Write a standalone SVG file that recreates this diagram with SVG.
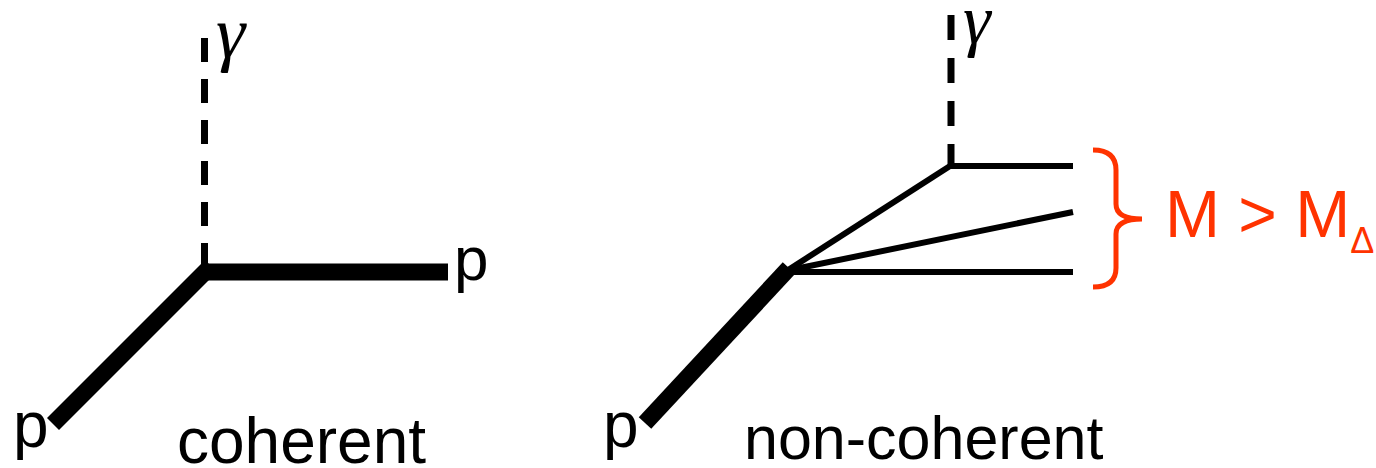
<svg xmlns="http://www.w3.org/2000/svg" width="1376" height="468" viewBox="0 0 1376 468">
  <style>
    .lbl { font-family: "Liberation Sans", Arial, sans-serif; fill: #000; }
    .greek { font-family: "Liberation Serif", "Times New Roman", serif; font-style: italic; fill: #000; }
    .photon { stroke: #000; stroke-width: 7; fill: none; }
    .proton { stroke: #000; stroke-width: 17; fill: none; stroke-linecap: butt; }
    .frag { stroke: #000; stroke-width: 6; fill: none; }
    .red { fill: #ff3300; font-family: "Liberation Sans", Arial, sans-serif; }
  </style>
  <rect width="1376" height="468" fill="#fff"/>

  <!-- coherent scattering: proton stays intact -->
  <g id="coherent">
    <line class="photon" x1="204.5" y1="38" x2="204.5" y2="268" stroke-dasharray="24 17"/>
    <line class="proton" x1="205" y1="272" x2="448" y2="272"/>
    <line class="proton" x1="211" y1="266" x2="53" y2="424"/>
    <text class="greek" x="216" y="57" font-size="74">γ</text>
    <text class="lbl" x="454" y="280" font-size="62">p</text>
    <text class="lbl" x="13" y="447" font-size="64">p</text>
    <text class="lbl" x="177" y="463" font-size="64">coherent</text>
  </g>

  <!-- non-coherent scattering: proton breaks up -->
  <g id="non-coherent">
    <line class="photon" x1="951" y1="15" x2="951" y2="166" stroke-dasharray="25 18"/>
    <line class="frag" x1="950" y1="166" x2="1073" y2="166"/>
    <line class="frag" x1="950" y1="166" x2="785" y2="272"/>
    <line class="frag" x1="785" y1="271" x2="1073" y2="212"/>
    <line class="frag" x1="785" y1="272" x2="1073" y2="272"/>
    <line class="proton" x1="789" y1="268" x2="645" y2="423"/>
    <text class="greek" x="963" y="43" font-size="70">γ</text>
    <text class="lbl" x="603" y="447" font-size="64">p</text>
    <text class="lbl" x="744" y="459" font-size="61">non-coherent</text>
  </g>

  <!-- invariant mass condition on the fragments -->
  <g id="mass-brace">
    <path d="M1093,150 Q1116,150 1116,170 L1116,204 Q1116,219 1142,219 Q1116,219 1116,234 L1116,268 Q1116,287 1093,287" fill="none" stroke="#ff3300" stroke-width="5"/>
    <text class="red" x="1165" y="237" font-size="66">M &gt; M<tspan font-size="36" dy="16">Δ</tspan></text>
  </g>
</svg>
